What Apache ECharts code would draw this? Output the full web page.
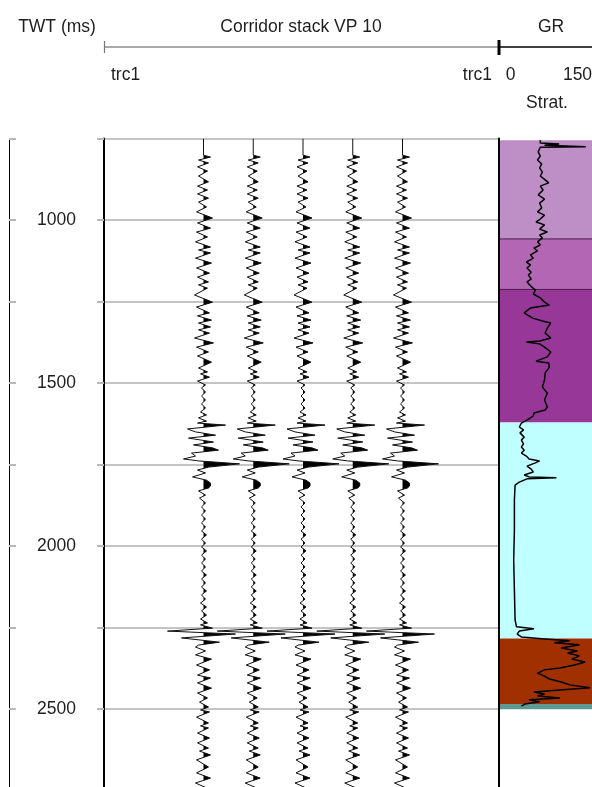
<!DOCTYPE html>
<html><head><meta charset="utf-8">
<script src="https://cdn.jsdelivr.net/npm/echarts@6/dist/echarts.min.js"></script>
<style>html,body{margin:0;padding:0;background:#fff}#c{width:592px;height:787px}</style>
</head><body><div id="c"></div>
<script>
// ---------------- data ----------------
const labelTicks = [1000, 1500, 2000, 2500];
const traceOffsets = [2, 3, 4, 5, 6];
const traceTime = [750,795,801,807,816,825,837,850,865,883,
896,908,920,933,945,960,975,994,1009,1025,
1037,1052,1067,1083,1092,1101,1117,1132,1147,1163,
1175,1190,1199,1209,1230,1252,1267,1285,1294,1307,
1316,1328,1337,1347,1362,1377,1390,1405,1417,1436,
1454,1466,1472,1482,1494,1506,1515,1528,1540,1552,
1564,1577,1589,1598,1607,1617,1623,1629,1641,1650,
1660,1669,1681,1690,1699,1706,1715,1724,1733,1739,
1748,1758,1767,1776,1788,1798,1807,1816,1822,1831,
1844,1853,1868,1880,1893,1905,1917,1929,1942,1954,
1966,1979,1991,2003,2015,2028,2040,2052,2064,2077,
2089,2101,2113,2126,2138,2150,2163,2175,2187,2199,
2212,2224,2236,2242,2252,2261,2270,2282,2295,2304,
2310,2322,2334,2347,2365,2380,2396,2405,2420,2436,
2451,2466,2479,2494,2503,2509,2525,2543,2552,2558,
2574,2589,2604,2620,2629,2641,2656,2678,2696,2712,
2727,2742,2750];
const traceAmp = [0,0,0,7,-5,5,-6,4,-5,5,
-6,4,-6,5,-5,3,-7,9,-6,7,
-7,4,-8,7,-5,7,-8,8,-7,6,
-6,5,-5,4,-9,9,-7,6,-6,8,
-5,7,-5,6,-9,10,-7,5,-6,8,
-5,4,-3,6,-6,2,-2,2,-2,2,
-2,2,-3,3,-5,3,-6,22,-16,-8,
12,-15,10,-10,9,15,-12,-8,-20,-5,
36,5,-6,2,-11,3,7,7,5,-5,
2,-4,2,-2,2,-2,2,-2,2,-2,
3,-2,2,-2,3,-2,2,-2,2,-2,
3,-2,2,-2,3,-2,2,-3,3,-2,
3,-3,4,-3,9,-36,32,-22,16,-5,
-8,2,-8,8,-7,6,-6,7,-6,8,
-6,4,-4,5,-3,6,-7,5,-3,5,
-6,6,-6,5,-4,7,-7,5,-7,7,
-8,3,-4];

const grTime = [755,764,767,771,775,777,791,804,816,828,840,853,865,877,886,896,908,923,936,948,963,975,985,997,1006,1015,1028,1037,1046,1055,1067,1077,1086,1095,1107,1117,1129,1138,1147,1160,1169,1181,1190,1202,1215,1227,1239,1252,1261,1270,1285,1301,1310,1316,1331,1347,1362,1371,1374,1380,1390,1405,1420,1433,1439,1451,1469,1491,1512,1531,1552,1574,1583,1592,1601,1607,1617,1623,1635,1644,1653,1666,1675,1687,1696,1706,1715,1724,1733,1739,1745,1755,1764,1773,1782,1788,1791,1794,1804,1813,1859,1951,2043,2135,2227,2248,2254,2261,2270,2279,2285,2291,2297,2303,2313,2322,2328,2337,2347,2356,2365,2374,2380,2390,2399,2408,2417,2426,2435,2442,2448,2454,2460,2466,2472,2478,2485,2491];
const grValue = [59,59,86,65,124,59,56,59,55,61,58,62,59,66,71,59,63,56,65,58,61,55,65,59,53,65,58,69,58,62,55,59,50,55,45,49,39,45,40,46,42,46,40,45,52,49,59,65,72,45,36,48,62,74,69,66,74,58,39,58,65,74,69,53,71,72,66,65,62,69,65,69,66,50,49,45,37,32,29,35,30,36,32,35,32,36,32,39,43,58,52,40,46,49,36,43,82,40,29,23,22,22,21,22,23,25,50,29,26,32,66,101,79,115,89,112,98,115,104,123,108,87,65,55,65,72,89,101,130,87,50,65,55,87,43,58,37,32];

const stratTop  = [755, 1058, 1213, 1621, 2284, 2485];
const stratBase = [1058, 1213, 1621, 2284, 2485, 2501];

// ---------------- styles ----------------
const stratPalette = ['#bd8fc6', '#b266b3', '#973797', '#c0ffff', '#a03000', '#5f9a90'];
const stratEdge = [null, '#4a1a4a', '#4a1a4a', null, null, null];
const FONT = '"Liberation Sans", Arial, sans-serif';
const FS = 17.5;
const TXT = '#1e1e1e';
const ampPerTrace = 49.75;   // amplitude units per trace spacing
const GRID_TOP = 138.5, GRID_H = 652;

function wiggle(params, api) {
  const off = api.value(0);
  const line = [], fill = [];
  for (let i = 0; i < traceTime.length; i++) {
    const a = traceAmp[i], t = traceTime[i];
    if (i > 0) {
      const ap = traceAmp[i - 1];
      if ((ap > 0 && a < 0) || (ap < 0 && a > 0)) {
        const tz = traceTime[i - 1] + (t - traceTime[i - 1]) * ap / (ap - a);
        fill.push(api.coord([off, tz]));
      }
    }
    line.push(api.coord([off + a / ampPerTrace, t]));
    fill.push(api.coord([off + Math.max(0, a) / ampPerTrace, t]));
  }
  return {type: 'group', children: [
    {type: 'polygon', shape: {points: fill}, style: {fill: '#000', stroke: 'none'}},
    {type: 'polyline', shape: {points: line}, style: {stroke: '#111', lineWidth: 1, fill: 'none'}}
  ]};
}

function stratRect(params, api) {
  const i = params.dataIndex;
  const p0 = api.coord([0, api.value(0)]);
  const p1 = api.coord([150, api.value(1)]);
  const children = [{type: 'rect', shape: {x: p0[0], y: p0[1], width: p1[0] - p0[0], height: p1[1] - p0[1]},
    style: {fill: stratPalette[i], stroke: 'none'}}];
  if (stratEdge[i]) children.push({type: 'line', shape: {x1: p0[0], y1: p0[1], x2: p1[0], y2: p0[1]},
    style: {stroke: stratEdge[i], lineWidth: 1}});
  return {type: 'group', children};
}

const chart = echarts.init(document.getElementById('c'), null, {renderer: 'canvas'});
const yBase = {type: 'value', inverse: true, min: 750, max: 2750, interval: 250};
const txt = (x, y, s, align) => ({type: 'text', x, y, silent: true,
  style: {text: s, fontSize: FS, fontFamily: FONT, fill: TXT, align: align || 'center', verticalAlign: 'middle'}});
const gridBase = {top: GRID_TOP, height: GRID_H, outerBoundsMode: 'none', containLabel: false};

chart.setOption({
  animation: false,
  backgroundColor: '#fff',
  grid: [
    Object.assign({left: 9, width: 95}, gridBase),
    Object.assign({left: 104, width: 394}, gridBase),
    Object.assign({left: 499, width: 105}, gridBase)
  ],
  xAxis: [
    {gridIndex: 0, type: 'value', min: 0, max: 1, show: false},
    {gridIndex: 1, type: 'value', min: 0, max: 394 / ampPerTrace, show: false},
    {gridIndex: 2, type: 'value', min: 0, max: 150, show: false}
  ],
  yAxis: [
    Object.assign({gridIndex: 0,
      axisLine: {show: true, lineStyle: {color: '#000', width: 1}},
      axisTick: {show: true, inside: true, length: 7, lineStyle: {color: '#b8b8b8', width: 2}},
      axisLabel: {inside: true, margin: 47.5, align: 'center', verticalAlign: 'middle',
        fontSize: FS, fontFamily: FONT, color: TXT,
        formatter: v => labelTicks.includes(v) ? String(v) : ''},
      splitLine: {show: false}}, yBase),
    Object.assign({gridIndex: 1,
      axisLine: {show: true, lineStyle: {color: '#000', width: 2}},
      axisTick: {show: true, inside: false, length: 7, lineStyle: {color: '#b8b8b8', width: 2}},
      axisLabel: {show: false},
      splitLine: {show: true, lineStyle: {color: '#c4c4c4', width: 2}}}, yBase),
    Object.assign({gridIndex: 2, z: 10,
      axisLine: {show: true, lineStyle: {color: '#000', width: 2}},
      axisTick: {show: false}, axisLabel: {show: false}, splitLine: {show: false}}, yBase)
  ],
  series: [
    {type: 'custom', xAxisIndex: 1, yAxisIndex: 1, clip: true, z: 3,
      data: traceOffsets.map(o => [o]), renderItem: wiggle},
    {type: 'custom', xAxisIndex: 2, yAxisIndex: 2, clip: true, z: 2,
      data: stratTop.map((t, i) => [t, stratBase[i]]), renderItem: stratRect},
    {type: 'line', xAxisIndex: 2, yAxisIndex: 2, clip: true, z: 4, symbol: 'none', showSymbol: false,
      lineStyle: {color: '#000', width: 1.5},
      data: grValue.map((v, i) => [v, grTime[i]])}
  ],
  graphic: [
    txt(57, 27, 'TWT (ms)'),
    txt(301, 27, 'Corridor stack VP 10'),
    txt(551, 27, 'GR'),
    {type: 'line', silent: true, shape: {x1: 104, y1: 47, x2: 499, y2: 47}, style: {stroke: '#8c8c8c', lineWidth: 1.5}},
    {type: 'line', silent: true, shape: {x1: 499, y1: 47, x2: 592, y2: 47}, style: {stroke: '#000', lineWidth: 1.5}},
    {type: 'line', silent: true, shape: {x1: 104.5, y1: 41, x2: 104.5, y2: 53}, style: {stroke: '#777', lineWidth: 1.2}},
    {type: 'line', silent: true, shape: {x1: 499, y1: 40, x2: 499, y2: 55}, style: {stroke: '#000', lineWidth: 3}},
    txt(111, 75, 'trc1', 'left'),
    txt(492, 75, 'trc1', 'right'),
    txt(510.5, 75, '0'),
    txt(577.5, 75, '150'),
    txt(547, 103.5, 'Strat.')
  ]
});
</script>
</body></html>
